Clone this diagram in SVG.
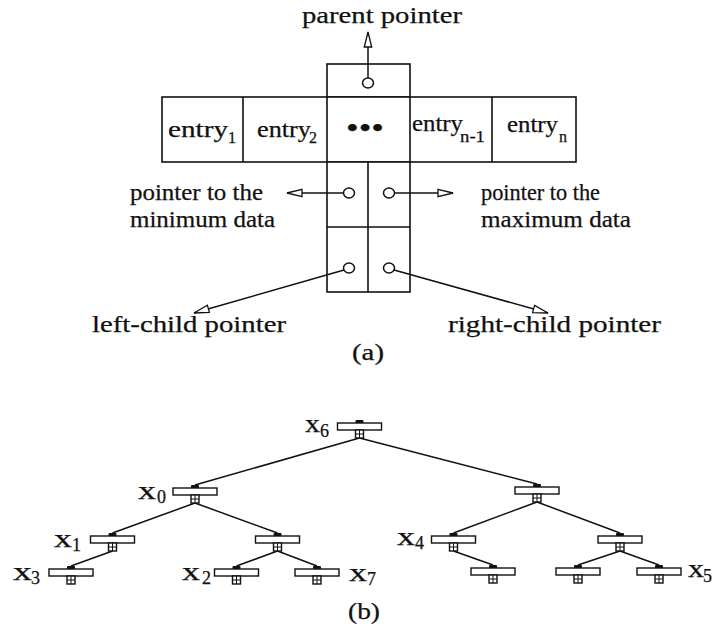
<svg xmlns="http://www.w3.org/2000/svg" width="714" height="628" viewBox="0 0 714 628">
<style>
text{font-family:"Liberation Serif","Times New Roman",serif;fill:#111;stroke:#111;stroke-width:0.25}
.lbl{font-size:23px}
.ent{font-size:24px}
.sub{font-size:16px}
.xl{font-size:25px}
.xs{font-size:18px}
.box{fill:#fff;stroke:#111;stroke-width:1.6}
.ln{stroke:#111;stroke-width:1.5;fill:none}
.pc{fill:#fff;stroke:#111;stroke-width:1.5}
.nr{fill:#fff;stroke:#111;stroke-width:1.4}
.bump{fill:#111}
</style>
<defs>
<marker id="ah" markerUnits="userSpaceOnUse" markerWidth="18" markerHeight="10" viewBox="0 0 18 10" refX="16" refY="5" orient="auto">
<path d="M1,1.3 L16,5 L1,8.7 Z" fill="#fff" stroke="#111" stroke-width="1.3"/>
</marker>
</defs>
<rect width="714" height="628" fill="#fff"/>

<!-- (a) record structure -->
<g id="record">
<rect class="box" x="327" y="64" width="83" height="33"/>
<rect class="box" x="162" y="97" width="414" height="65"/>
<path class="ln" d="M243,97 V162 M327,97 V162 M410,97 V162 M492,97 V162" style="stroke-width:1.6"/>
<rect class="box" x="327" y="162" width="83" height="130"/>
<path class="ln" d="M368,162 V292 M327,227 H410" style="stroke-width:1.6"/>
<text class="ent" x="168" y="137" textLength="60" lengthAdjust="spacingAndGlyphs">entry</text>
<text class="sub" x="228" y="143">1</text>
<text class="ent" x="257" y="137" textLength="54" lengthAdjust="spacingAndGlyphs">entry</text>
<text class="sub" x="309" y="143">2</text>
<text x="346" y="138" style="font-size:30px" textLength="38" lengthAdjust="spacingAndGlyphs">•••</text>
<text class="ent" x="412" y="131" textLength="51" lengthAdjust="spacingAndGlyphs">entry</text>
<text class="sub" x="460" y="142" textLength="25" lengthAdjust="spacingAndGlyphs">n-1</text>
<text class="ent" x="507" y="132" textLength="51" lengthAdjust="spacingAndGlyphs">entry</text>
<text class="sub" x="559" y="142">n</text>
</g>

<g id="pointers">
<ellipse class="pc" cx="368" cy="83" rx="5.5" ry="5"/>
<ellipse class="pc" cx="349" cy="193" rx="5.5" ry="5"/>
<ellipse class="pc" cx="389" cy="193" rx="5.5" ry="5"/>
<ellipse class="pc" cx="349" cy="268" rx="5.5" ry="5"/>
<ellipse class="pc" cx="389" cy="268" rx="5.5" ry="5"/>
</g>

<g id="connectors-a">
<line class="ln" x1="368" y1="78" x2="368" y2="32" marker-end="url(#ah)"/>
<line class="ln" x1="343.5" y1="193" x2="287" y2="193" marker-end="url(#ah)"/>
<line class="ln" x1="394.5" y1="193" x2="453" y2="193" marker-end="url(#ah)"/>
<line class="ln" x1="344" y1="270" x2="194" y2="313" marker-end="url(#ah)"/>
<line class="ln" x1="394" y1="270" x2="548" y2="313" marker-end="url(#ah)"/>
</g>

<g id="labels-a">
<text class="lbl" x="302" y="23" textLength="160" lengthAdjust="spacingAndGlyphs">parent pointer</text>
<text class="lbl" x="130" y="200" textLength="133" lengthAdjust="spacingAndGlyphs">pointer to the</text>
<text class="lbl" x="130" y="227" textLength="145" lengthAdjust="spacingAndGlyphs">minimum data</text>
<text class="lbl" x="481" y="200" textLength="119" lengthAdjust="spacingAndGlyphs">pointer to the</text>
<text class="lbl" x="481" y="227" textLength="150" lengthAdjust="spacingAndGlyphs">maximum data</text>
<text class="lbl" x="92" y="332" textLength="194" lengthAdjust="spacingAndGlyphs">left-child pointer</text>
<text class="lbl" x="448" y="332" textLength="213" lengthAdjust="spacingAndGlyphs">right-child pointer</text>
<text class="lbl" x="352" y="360" textLength="32" lengthAdjust="spacingAndGlyphs">(a)</text>
</g>

<!-- (b) tree -->
<g id="connectors-b" class="ln">
<line x1="359.5" y1="438" x2="195" y2="485"/>
<line x1="359.5" y1="438" x2="537" y2="484"/>
<line x1="195" y1="503" x2="112.5" y2="533"/>
<line x1="195" y1="503" x2="277.5" y2="533"/>
<line x1="112.5" y1="551" x2="71" y2="566"/>
<line x1="277.5" y1="551" x2="236.5" y2="566"/>
<line x1="277.5" y1="551" x2="317" y2="566"/>
<line x1="537" y1="502" x2="453.5" y2="533"/>
<line x1="537" y1="502" x2="620" y2="533"/>
<line x1="453.5" y1="551" x2="493" y2="565"/>
<line x1="620" y1="551" x2="578" y2="565"/>
<line x1="620" y1="551" x2="659" y2="565"/>
</g>

<g id="x6" transform="translate(359.5,423)">
<rect class="nr" x="-22" y="0" width="44" height="7"/><rect class="bump" x="-4" y="-3" width="8" height="3" rx="1"/>
<rect class="nr" x="-4" y="7" width="8" height="8"/><path class="ln" d="M0,7 V15 M-4,11 H4" style="stroke-width:1"/>
</g>
<g id="x0" transform="translate(195,488)">
<rect class="nr" x="-22" y="0" width="44" height="7"/><rect class="bump" x="-4" y="-3" width="8" height="3" rx="1"/>
<rect class="nr" x="-4" y="7" width="8" height="8"/><path class="ln" d="M0,7 V15 M-4,11 H4" style="stroke-width:1"/>
</g>
<g id="nR" transform="translate(537,487)">
<rect class="nr" x="-22" y="0" width="44" height="7"/><rect class="bump" x="-4" y="-3" width="8" height="3" rx="1"/>
<rect class="nr" x="-4" y="7" width="8" height="8"/><path class="ln" d="M0,7 V15 M-4,11 H4" style="stroke-width:1"/>
</g>
<g id="x1" transform="translate(112.5,536)">
<rect class="nr" x="-22" y="0" width="44" height="7"/><rect class="bump" x="-4" y="-3" width="8" height="3" rx="1"/>
<rect class="nr" x="-4" y="7" width="8" height="8"/><path class="ln" d="M0,7 V15 M-4,11 H4" style="stroke-width:1"/>
</g>
<g id="nx0R" transform="translate(277.5,536)">
<rect class="nr" x="-22" y="0" width="44" height="7"/><rect class="bump" x="-4" y="-3" width="8" height="3" rx="1"/>
<rect class="nr" x="-4" y="7" width="8" height="8"/><path class="ln" d="M0,7 V15 M-4,11 H4" style="stroke-width:1"/>
</g>
<g id="x4" transform="translate(453.5,536)">
<rect class="nr" x="-22" y="0" width="44" height="7"/><rect class="bump" x="-4" y="-3" width="8" height="3" rx="1"/>
<rect class="nr" x="-4" y="7" width="8" height="8"/><path class="ln" d="M0,7 V15 M-4,11 H4" style="stroke-width:1"/>
</g>
<g id="nRR" transform="translate(620,536)">
<rect class="nr" x="-22" y="0" width="44" height="7"/><rect class="bump" x="-4" y="-3" width="8" height="3" rx="1"/>
<rect class="nr" x="-4" y="7" width="8" height="8"/><path class="ln" d="M0,7 V15 M-4,11 H4" style="stroke-width:1"/>
</g>
<g id="x3" transform="translate(71,569)">
<rect class="nr" x="-22" y="0" width="44" height="7"/><rect class="bump" x="-4" y="-3" width="8" height="3" rx="1"/>
<rect class="nr" x="-4" y="7" width="8" height="8"/><path class="ln" d="M0,7 V15 M-4,11 H4" style="stroke-width:1"/>
</g>
<g id="x2" transform="translate(236.5,569)">
<rect class="nr" x="-22" y="0" width="44" height="7"/><rect class="bump" x="-4" y="-3" width="8" height="3" rx="1"/>
<rect class="nr" x="-4" y="7" width="8" height="8"/><path class="ln" d="M0,7 V15 M-4,11 H4" style="stroke-width:1"/>
</g>
<g id="x7" transform="translate(317,569)">
<rect class="nr" x="-22" y="0" width="44" height="7"/><rect class="bump" x="-4" y="-3" width="8" height="3" rx="1"/>
<rect class="nr" x="-4" y="7" width="8" height="8"/><path class="ln" d="M0,7 V15 M-4,11 H4" style="stroke-width:1"/>
</g>
<g id="nx4R" transform="translate(493,568)">
<rect class="nr" x="-22" y="0" width="44" height="7"/><rect class="bump" x="-4" y="-3" width="8" height="3" rx="1"/>
<rect class="nr" x="-4" y="7" width="8" height="8"/><path class="ln" d="M0,7 V15 M-4,11 H4" style="stroke-width:1"/>
</g>
<g id="nRRL" transform="translate(578,568)">
<rect class="nr" x="-22" y="0" width="44" height="7"/><rect class="bump" x="-4" y="-3" width="8" height="3" rx="1"/>
<rect class="nr" x="-4" y="7" width="8" height="8"/><path class="ln" d="M0,7 V15 M-4,11 H4" style="stroke-width:1"/>
</g>
<g id="x5" transform="translate(659,568)">
<rect class="nr" x="-22" y="0" width="44" height="7"/><rect class="bump" x="-4" y="-3" width="8" height="3" rx="1"/>
<rect class="nr" x="-4" y="7" width="8" height="8"/><path class="ln" d="M0,7 V15 M-4,11 H4" style="stroke-width:1"/>
</g>

<g id="labels-b">
<text class="xl" x="305" y="432" textLength="15" lengthAdjust="spacingAndGlyphs">x</text><text class="xs" x="320" y="437">6</text>
<text class="xl" x="138" y="499" textLength="18" lengthAdjust="spacingAndGlyphs">x</text><text class="xs" x="157" y="503">0</text>
<text class="xl" x="54" y="547" textLength="18" lengthAdjust="spacingAndGlyphs">x</text><text class="xs" x="72" y="551">1</text>
<text class="xl" x="13" y="580" textLength="19" lengthAdjust="spacingAndGlyphs">x</text><text class="xs" x="31" y="584">3</text>
<text class="xl" x="182" y="580" textLength="18" lengthAdjust="spacingAndGlyphs">x</text><text class="xs" x="202" y="584">2</text>
<text class="xl" x="349" y="581" textLength="18" lengthAdjust="spacingAndGlyphs">x</text><text class="xs" x="367" y="585">7</text>
<text class="xl" x="397" y="545" textLength="18" lengthAdjust="spacingAndGlyphs">x</text><text class="xs" x="415" y="549">4</text>
<text class="xl" x="688" y="577" textLength="16" lengthAdjust="spacingAndGlyphs">x</text><text class="xs" x="703" y="582">5</text>
<text class="lbl" x="348" y="619" textLength="32" lengthAdjust="spacingAndGlyphs">(b)</text>
</g>
</svg>
